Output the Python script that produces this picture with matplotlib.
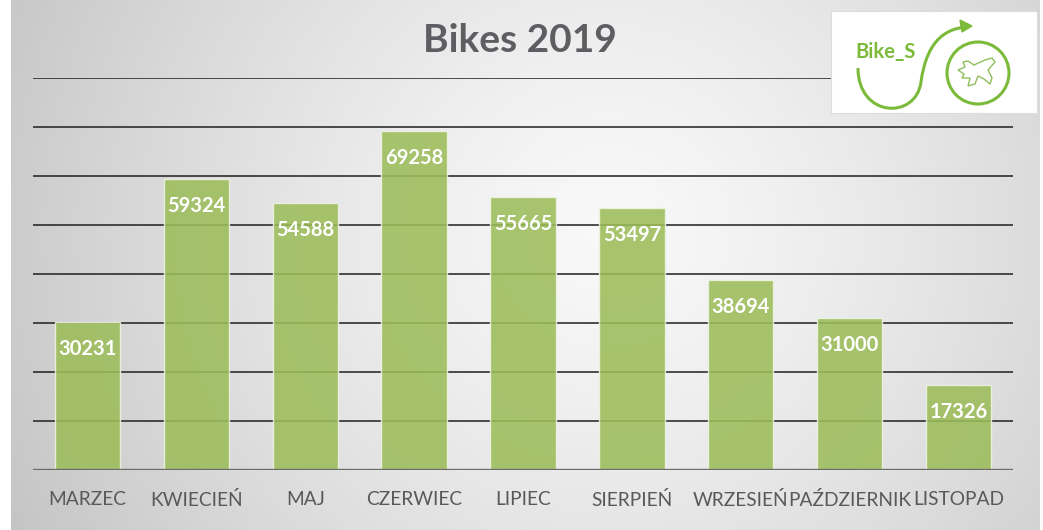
import numpy as np
import matplotlib
matplotlib.use("Agg")
import matplotlib.pyplot as plt
from matplotlib.path import Path
from matplotlib.patches import PathPatch, Rectangle, Circle, Polygon

plt.rcParams['font.family'] = ['Lato', 'DejaVu Sans']

months = ["MARZEC", "KWIECIEŃ", "MAJ", "CZERWIEC", "LIPIEC",
          "SIERPIEŃ", "WRZESIEŃ", "PAŹDZIERNIK", "LISTOPAD"]
rides = [30231, 59324, 54588, 69258, 55665, 53497, 38694, 31000, 17326]
grid_levels = [10000, 20000, 30000, 40000, 50000, 60000, 70000, 80000]
title = "Bikes 2019"

W, H = 1043, 530
fig = plt.figure(figsize=(W / 100, H / 100), dpi=100)
fig.patch.set_facecolor("white")

# --- gradient panel behind the chart ---
px0, px1 = 11, 1040
bg = fig.add_axes([px0 / W, 0, (px1 - px0) / W, 1], zorder=0)
xs = np.arange(px0, px1)
ys = np.arange(0, H)
X, Y = np.meshgrid(xs, ys)
r = np.sqrt(((X - 610) / 640.0) ** 2 + ((Y - 230) / 620.0) ** 2)
shade = np.clip(0.975 - 0.19 * r ** 1.3, 0, 1)
bg.imshow(np.dstack([shade] * 3), aspect="auto", extent=(px0, px1, H, 0),
          interpolation="bilinear")
bg.set_xlim(px0, px1)
bg.set_ylim(H, 0)
bg.axis("off")

# --- bar chart ---
ax = fig.add_axes([33 / W, 60 / H, 980 / W, 392 / H], zorder=1)
ax.patch.set_alpha(0)
x = np.arange(len(months))
for lvl in grid_levels:
    ax.axhline(lvl, color="#1f1f1f", lw=1.1, zorder=1)
bars = ax.bar(x, rides, width=0.6, color="#9cbd5a", alpha=0.88,
              edgecolor="#eef4e2", linewidth=1.0, zorder=2)
ax.axhline(0, color="#6b6b6b", lw=2.4, zorder=3)
ax.set_xlim(-0.5, len(months) - 0.5)
ax.set_ylim(0, 80000)
for s in ax.spines.values():
    s.set_visible(False)
ax.set_yticks([])
ax.set_xticks(x)
ax.set_xticklabels(months, fontsize=13.8, color="#595959")
ax.tick_params(axis="x", length=0, pad=15)

for xi, v in zip(x, rides):
    ax.annotate(f"{v}", xy=(xi, v), xytext=(0, -19.5), textcoords="offset points",
                ha="center", va="center", color="white", fontsize=14.5,
                fontweight="bold", zorder=4)

# --- overlay: title and logo in pixel coordinates ---
ov = fig.add_axes([0, 0, 1, 1], zorder=5)
ov.set_xlim(0, W)
ov.set_ylim(H, 0)
ov.axis("off")
ov.patch.set_alpha(0)

ov.text(520, 40, title, ha="center", va="center", fontsize=28,
        fontweight="bold", color="#5d5e62")

green = "#7cbb3a"
ov.add_patch(Rectangle((831, 11), 206, 102, facecolor="white",
                       edgecolor="#dcdcdc", lw=0.8))
ov.text(855, 52, "Bike_S", ha="left", va="center", fontsize=14.5,
        fontweight="bold", color=green)
swoosh = Path([(858, 68), (858, 118), (916, 120), (921, 82),
               (926, 45), (942, 29), (966, 27)],
              [Path.MOVETO, Path.CURVE4, Path.CURVE4, Path.CURVE4,
               Path.CURVE4, Path.CURVE4, Path.CURVE4])
ov.add_patch(PathPatch(swoosh, facecolor="none", edgecolor=green, lw=2.2))
ov.add_patch(Polygon([(972, 26), (960, 20), (962, 32)], closed=True,
                     facecolor=green, edgecolor=green, lw=1))
ov.add_patch(Circle((978, 73), 31, facecolor="none", edgecolor=green, lw=2.2))
plane = [(958, 70), (965, 67), (963, 62), (968, 61), (974, 65), (985, 60),
         (992, 58), (995, 62), (988, 70), (992, 78), (990, 84), (984, 79),
         (978, 76), (975, 84), (968, 86), (970, 78), (962, 78), (964, 74)]
ov.add_patch(Polygon(plane, closed=True, facecolor="none",
                     edgecolor="#8fbf5c", lw=1.0))

fig.savefig("out.png", dpi=100)
